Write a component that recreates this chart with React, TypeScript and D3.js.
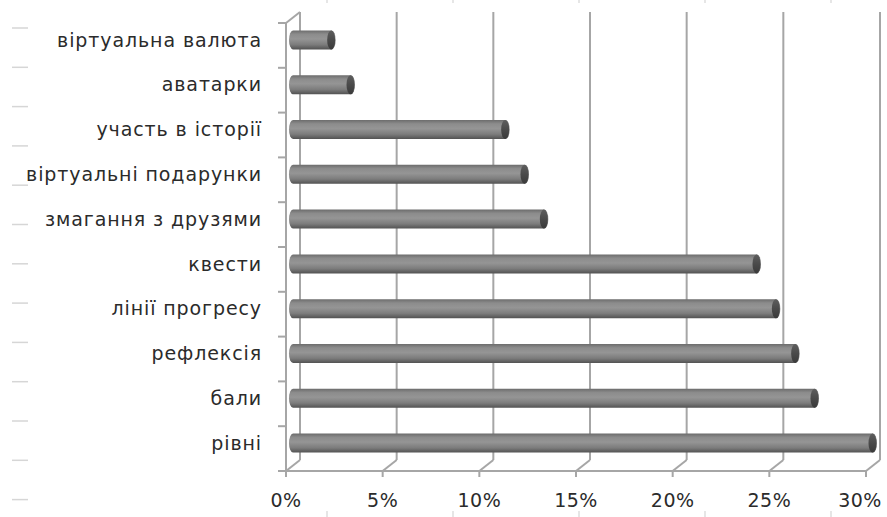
import React from "react";
import * as d3 from "d3";

const categories = [
  "віртуальна валюта",
  "аватарки",
  "участь в історії",
  "віртуальні подарунки",
  "змагання з друзями",
  "квести",
  "лінії прогресу",
  "рефлексія",
  "бали",
  "рівні",
];
const values = [0.02, 0.03, 0.11, 0.12, 0.13, 0.24, 0.25, 0.26, 0.27, 0.3];
const xTicks = [0, 0.05, 0.1, 0.15, 0.2, 0.25, 0.3];

const W = 887;
const H = 517;
// 3D depth offset of the back wall
const DX = 14;
const DY = -11;
const FONT = "'DejaVu Sans', sans-serif";

export default function App() {
  const x = d3.scaleLinear().domain([0, 0.3]).range([286, 866]);
  const y = d3.scaleBand().domain(categories).range([23, 471]);
  const floorY = y.range()[1];
  const topY = y.range()[0];
  const barH = 19;
  const capR = 4;

  const axisColor = "#a6a6a6";
  const fmt = d3.format(".0%");

  return (
    <svg
      width={W}
      height={H}
      style={{ position: "absolute", left: 0, top: 0, background: "#fff" }}
    >
      <defs>
        <linearGradient id="cyl" x1="0" y1="0" x2="0" y2="1">
          <stop offset="0" stopColor="#6c6c6c" />
          <stop offset="0.2" stopColor="#8c8c8c" />
          <stop offset="0.45" stopColor="#959595" />
          <stop offset="0.75" stopColor="#7c7c7c" />
          <stop offset="1" stopColor="#525252" />
        </linearGradient>
        <linearGradient id="cap" x1="0" y1="0" x2="0" y2="1">
          <stop offset="0" stopColor="#5e5e5e" />
          <stop offset="0.5" stopColor="#4a4a4a" />
          <stop offset="1" stopColor="#3a3a3a" />
        </linearGradient>
      </defs>

      {/* faint stray marks around the chart */}
      {d3.range(13).map((i) => (
        <line
          key={"lm" + i}
          x1={12}
          x2={28}
          y1={28 + i * 39.3}
          y2={28 + i * 39.3}
          stroke="#d6d6d6"
          strokeWidth={1.5}
        />
      ))}
      {d3.range(5).map((i) => (
        <g key={"tb" + i} stroke="#dedede" strokeWidth={1.5}>
          <line x1={327 + i * 126} x2={327 + i * 126} y1={0} y2={3} />
          <line x1={327 + i * 126} x2={327 + i * 126} y1={511} y2={517} />
        </g>
      ))}

      {/* back wall gridlines */}
      {xTicks.map((t) => (
        <g key={"g" + t} stroke={axisColor} strokeWidth={2} fill="none">
          <line
            x1={x(t) + DX}
            x2={x(t) + DX}
            y1={topY + DY}
            y2={floorY + DY}
          />
          <line
            x1={x(t) + DX}
            y1={floorY + DY}
            x2={x(t)}
            y2={floorY}
          />
        </g>
      ))}

      {/* left side wall + floor edge */}
      <g stroke={axisColor} strokeWidth={2} fill="none">
        <line x1={x(0)} x2={x(0)} y1={topY} y2={floorY} />
        <line x1={x(0)} y1={topY} x2={x(0) + DX} y2={topY + DY} />
        <line x1={x(0)} x2={x(0.3)} y1={floorY} y2={floorY} />
        {y.domain().map((c) => (
          <line
            key={"yt" + c}
            x1={x(0) - 8}
            x2={x(0)}
            y1={y(c)!}
            y2={y(c)!}
          />
        ))}
        <line x1={x(0) - 8} x2={x(0)} y1={floorY} y2={floorY} />
        {xTicks.map((t) => (
          <line key={"xt" + t} x1={x(t)} x2={x(t)} y1={floorY} y2={floorY + 6} />
        ))}
      </g>

      {/* cylinder bars */}
      {categories.map((c, i) => {
        const cy = y(c)! + y.bandwidth() / 2 + DY / 2;
        const x0 = x(0) + DX / 2;
        const x1 = x(values[i]) + DX / 2;
        const top = cy - barH / 2;
        const d = `M${x0},${top} L${x1},${top} A${capR},${barH / 2} 0 0 1 ${x1},${
          top + barH
        } L${x0},${top + barH} A${capR},${barH / 2} 0 0 1 ${x0},${top} Z`;
        return (
          <g key={"b" + c}>
            <path d={d} fill="url(#cyl)" />
            <ellipse
              cx={x1 - 0.5}
              cy={cy}
              rx={capR}
              ry={barH / 2}
              fill="url(#cap)"
            />
          </g>
        );
      })}

      {/* category labels */}
      {categories.map((c) => (
        <text
          key={"l" + c}
          x={262}
          y={y(c)! + y.bandwidth() / 2 + DY / 2}
          dy="0.35em"
          textAnchor="end"
          fontFamily={FONT}
          fontSize={19}
          letterSpacing={0.9}
          fill="#2b2b2b"
        >
          {c}
        </text>
      ))}

      {/* value axis labels */}
      {xTicks.map((t) => (
        <text
          key={"xl" + t}
          x={t === 0.3 ? x(t) - 6 : x(t)}
          y={500}
          dy="0.35em"
          textAnchor="middle"
          fontFamily={FONT}
          fontSize={19}
          letterSpacing={0.5}
          fill="#2b2b2b"
        >
          {fmt(t)}
        </text>
      ))}
    </svg>
  );
}
